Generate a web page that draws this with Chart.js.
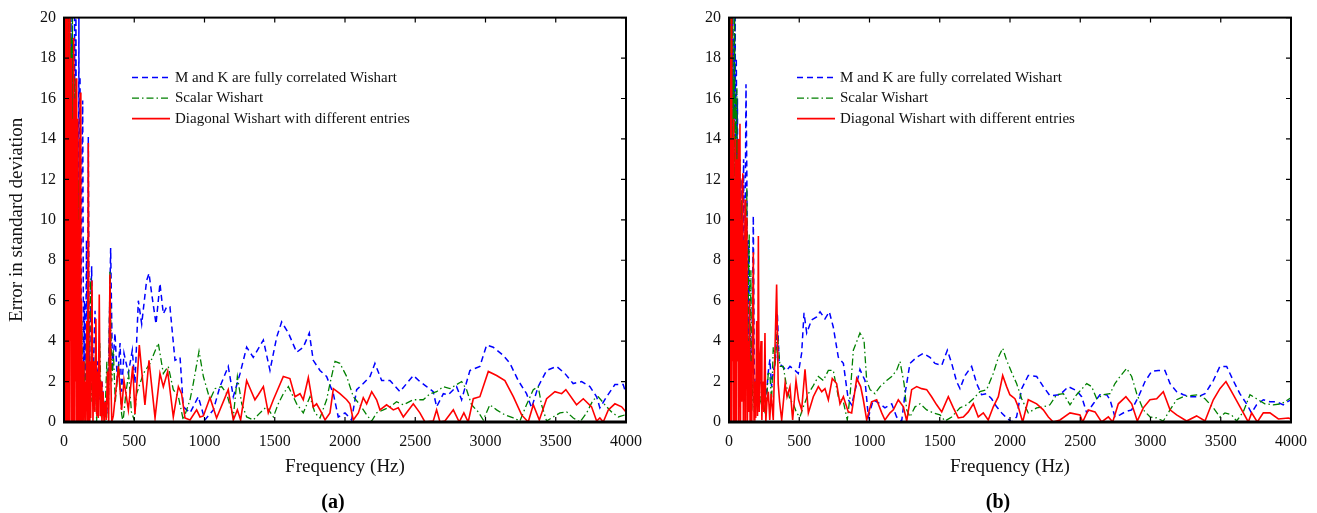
<!DOCTYPE html>
<html>
<head>
<meta charset="utf-8">
<script src="https://cdn.jsdelivr.net/npm/chart.js@4.4.1/dist/chart.umd.min.js"></script>
<style>
  body { margin: 0; background: #fff; }
  #wrap { position: relative; width: 1317px; height: 513px; }
  canvas { position: absolute; top: 0; }
</style>
</head>
<body>
<div id="wrap">
  <canvas id="chartA" width="660" height="513" style="left:0"></canvas>
  <canvas id="chartB" width="657" height="513" style="left:660px"></canvas>
</div>
<script>
// axis ticks
const xTicks = [0, 500, 1000, 1500, 2000, 2500, 3000, 3500, 4000];
const yTicks = [0, 2, 4, 6, 8, 10, 12, 14, 16, 18, 20];
const seriesNames = ['M and K are fully correlated Wishart', 'Scalar Wishart', 'Diagonal Wishart with different entries'];

// panel (a): [frequency Hz, error]
const aBlue = [[0,0],[3,20],[6,5],[10,20],[14,8],[18,20],[22,12],[26,20],[30,10],[34,20],[38,6],[42,18],[46,9],[50,20],[54,4],[58,19],[62,7],[66,15],[70,2],[75,20],[80,8],[85,20],[90,3],[96,12],[102,1],[106,20],[110,5],[114,17.1],[120,3],[126,12],[133,15.9],[140,1],[146,6],[152,0.5],[160,9],[166,1],[173,14.1],[180,2],[188,5],[197,7.7],[206,1],[214,4],[221,5.5],[230,1],[240,3],[256,1.1],[270,2],[290,0.5],[304,0.25],[318,3],[332,8.6],[345,2.5],[363,4.4],[380,2],[399,3.9],[410,1.5],[427,3.4],[458,2.4],[486,3.55],[505,1.9],[529,6.0],[553,4.85],[588,7.0],[605,7.35],[624,6.35],[655,4.85],[683,6.85],[707,5.35],[731,5.7],[754,5.7],[790,3.05],[826,3.2],[849,0.75],[897,0.45],[956,1.25],[1003,0.1],[1063,0.6],[1110,1.75],[1169,2.75],[1205,1.25],[1253,2.4],[1300,3.7],[1347,3.2],[1419,4.05],[1466,2.55],[1514,4.2],[1549,4.95],[1597,4.4],[1656,3.45],[1703,3.7],[1746,4.4],[1774,3.05],[1822,2.55],[1869,2.25],[1917,1.4],[1952,0.25],[2000,0.45],[2047,0.1],[2083,1.6],[2130,1.9],[2178,2.25],[2213,2.9],[2261,2.05],[2320,2.05],[2391,1.5],[2486,2.3],[2533,2.0],[2581,1.75],[2628,1.5],[2652,0.75],[2700,1.4],[2735,1.35],[2794,1.75],[2830,1.1],[2889,2.55],[2960,2.75],[3008,3.8],[3055,3.7],[3126,3.3],[3174,2.9],[3233,2.05],[3292,1.4],[3328,0.7],[3375,1.75],[3435,2.55],[3506,2.75],[3565,2.4],[3624,1.9],[3684,2.0],[3743,1.75],[3791,1.25],[3814,0.7],[3862,1.25],[3921,1.85],[3980,1.85],[4000,1.4]];
const aGreen = [[0,0],[4,12],[8,2],[12,18],[16,4],[20,20],[24,6],[28,20],[32,3],[36,20],[40,9],[44,20],[48,5],[52,19],[56,8],[60,20],[64,2],[68,18],[72,6],[78,17],[82,4],[86,16.5],[90,1],[95,15],[100,3],[105,12],[110,0],[116,8],[122,1],[128,5],[134,0.5],[142,3],[150,0],[160,4],[170,0.5],[182,5],[190,7.1],[198,1],[208,3],[218,0.5],[225,4],[232,0],[245,2],[255,3.9],[265,0.5],[280,1],[290,0],[305,3],[316,0.2],[327,7.5],[340,2],[351,3.55],[365,1],[390,2.9],[410,0.4],[420,0],[440,1.4],[460,2.4],[480,0.5],[500,0.1],[517,1.4],[565,2.4],[612,2.9],[671,3.9],[707,2.4],[742,2.75],[778,1.6],[814,1.25],[849,0.1],[897,1.1],[920,1.9],[961,3.5],[992,2.25],[1039,1.1],[1075,1.65],[1122,1.75],[1158,1.4],[1205,0.25],[1234,2.25],[1265,0.9],[1300,0.25],[1347,0.1],[1395,0.45],[1442,0.75],[1490,0.25],[1525,0.9],[1561,1.4],[1597,1.75],[1656,0.9],[1703,0.45],[1751,1.25],[1786,0.45],[1822,0.2],[1869,1.1],[1893,1.9],[1929,3.0],[1964,2.9],[2012,2.25],[2059,1.25],[2107,0.85],[2154,0.35],[2190,0.05],[2225,0.45],[2273,0.6],[2320,0.75],[2367,1.0],[2415,0.85],[2486,1.1],[2557,1.1],[2605,1.4],[2652,1.5],[2700,1.75],[2747,1.65],[2794,1.85],[2830,2.0],[2865,1.6],[2901,0.85],[2948,0.5],[2984,0.1],[3031,0.85],[3079,0.6],[3138,0.35],[3198,0.2],[3245,0.05],[3292,0.85],[3340,1.6],[3375,1.75],[3399,0.85],[3435,0.05],[3482,0.25],[3530,0.45],[3577,0.5],[3625,0.2],[3672,0],[3720,0.45],[3767,1.1],[3803,1.25],[3850,0.85],[3897,0.5],[3945,0.25],[3992,0.35],[4000,0.4]];
const aRed = [[0,1.2],[2,20],[4,0.5],[6,20],[8,2],[10,19],[12,0],[14,20],[16,3],[18,18],[20,0],[22,20],[24,5],[27,19],[30,0],[32,17],[35,2],[38,20],[41,0],[44,16],[47,4],[50,18],[53,0],[56,17],[59,1],[62,15],[65,0],[68,19],[71,3],[74,16],[77,0],[80,14],[83,2],[86,17],[89,0],[92,12],[95,0],[98,15],[101,1],[104,10],[107,0],[110,14],[113,0],[116,16.3],[120,0],[125,6],[130,0],[136,3],[142,0],[148,2],[155,0],[162,5],[168,0],[173,13.8],[178,0],[184,3],[190,0.2],[199,7],[206,0],[214,3],[220,0.5],[227,5.1],[234,0.3],[240,2.5],[244,0.2],[251,6.3],[258,0.3],[264,2],[270,0],[278,1.5],[285,0],[293,1],[300,0.1],[310,2.5],[318,0],[327,7.3],[334,2],[340,0],[351,0.3],[387,2.75],[410,0.6],[427,2.05],[458,0.6],[489,2.75],[505,0.4],[536,3.8],[576,0.85],[605,3.05],[648,0.2],[683,2.4],[707,1.75],[738,2.5],[778,0.25],[814,1.75],[837,1.4],[861,0.2],[897,0.1],[944,0.6],[968,0.25],[992,0.3],[1039,1.2],[1086,0.2],[1169,1.6],[1205,0.1],[1234,0.6],[1257,0.1],[1300,2.05],[1359,1.1],[1383,1.35],[1419,1.75],[1454,0.45],[1490,1.1],[1561,2.25],[1608,2.15],[1644,1.25],[1680,1.4],[1703,1.1],[1739,2.2],[1774,0.75],[1798,0.9],[1834,0.45],[1858,0.1],[1893,0.45],[1917,1.65],[1964,1.4],[2012,1.1],[2035,0.9],[2059,0.1],[2095,0.45],[2130,1.2],[2154,0.9],[2190,1.5],[2225,1.1],[2249,0.6],[2296,0.85],[2344,0.6],[2379,0.7],[2415,0.25],[2486,0.9],[2533,0.45],[2569,0],[2628,0.05],[2652,0.6],[2676,0],[2711,0.05],[2771,0.6],[2813,0],[2846,0.45],[2877,0],[2913,1.15],[2960,1.25],[3020,2.5],[3079,2.3],[3138,2.05],[3198,1.25],[3257,0.35],[3304,0],[3340,0.85],[3383,0.1],[3435,1.15],[3494,1.5],[3542,1.4],[3572,1.6],[3648,0.85],[3696,1.15],[3755,0.75],[3791,0.05],[3814,0.2],[3838,0],[3874,0.6],[3921,0.9],[3969,0.75],[4000,0.5]];

// panel (b)
const bBlue = [[0,0],[3,20],[6,8],[9,20],[12,14],[15,20],[18,10],[21,20],[24,16],[28,20],[32,12],[36,19],[40,15],[44,20],[48,9],[52,18],[56,13],[60,16],[64,6],[68,14],[72,10],[76,13],[80,4],[86,12],[92,2],[98,9],[104,13],[110,1],[116,11],[121,16.7],[127,12.3],[133,4],[140,9],[146,1],[152,4.4],[160,1],[167,6],[173,10.2],[180,2.5],[190,1.5],[203,1.1],[215,2],[230,1.9],[243,1.1],[255,1.9],[268,1.5],[280,2.5],[291,3.1],[303,1.75],[315,2.5],[330,3],[344,5.4],[357,2.9],[380,2.75],[410,2.55],[434,2.75],[470,2.55],[493,2.4],[517,3.4],[534,5.4],[553,4.4],[588,5.05],[624,5.2],[648,5.45],[683,5.1],[714,5.45],[742,4.7],[778,3.2],[814,2.9],[849,1.1],[873,0.85],[909,1.9],[932,2.6],[968,2.05],[992,0.25],[1027,1.1],[1075,0.9],[1110,0.7],[1158,0.9],[1193,0.25],[1229,0.05],[1253,1.4],[1288,2.9],[1336,3.2],[1383,3.4],[1430,3.2],[1466,2.9],[1514,2.8],[1554,3.55],[1585,2.9],[1620,2.0],[1644,1.65],[1680,2.3],[1727,2.75],[1763,1.9],[1798,1.35],[1834,1.4],[1869,1.15],[1905,0.75],[1941,0.45],[1976,0.2],[2012,0.0],[2047,0.25],[2083,1.65],[2130,2.3],[2190,2.25],[2237,1.75],[2284,1.3],[2356,1.35],[2415,1.75],[2474,1.55],[2510,1.25],[2546,0.45],[2593,0.9],[2640,1.35],[2688,1.35],[2712,1.1],[2747,0.25],[2783,0.35],[2819,0.5],[2866,0.6],[2914,1.25],[2961,2.0],[3008,2.5],[3056,2.55],[3103,2.55],[3139,1.9],[3186,1.5],[3234,1.35],[3281,1.25],[3340,1.25],[3388,1.4],[3447,2.05],[3494,2.75],[3542,2.75],[3589,2.05],[3636,1.4],[3684,0.9],[3719,0.45],[3755,0.85],[3803,1.1],[3850,1.0],[3898,1.0],[3945,0.85],[3974,1.0],[4000,1.1]];
const bGreen = [[0,0],[3,14],[6,2],[9,20],[12,6],[15,20],[18,3],[21,18],[24,10],[27,20],[30,4],[32,17],[36,8],[40,20],[44,5],[48,16],[52,9],[56,16.5],[60,3],[64,14],[68,7],[72,13],[78,12.95],[84,4],[90,11],[96,2],[102,7.7],[108,3],[114,9],[120,4],[127,11.6],[133,2],[138,7],[144,9.3],[150,1],[156,7.5],[162,0.5],[170,2],[180,0.5],[190,2],[200,1.5],[210,2.5],[222,1],[240,1.5],[255,0.4],[268,1.1],[280,2.5],[292,2.25],[303,1],[315,3.7],[330,3],[344,4.5],[363,2.75],[386,2.75],[410,1.75],[434,1.1],[458,0.9],[481,0.45],[505,0.25],[529,0.75],[565,1.4],[600,1.8],[636,2.25],[671,2.05],[707,2.55],[742,2.55],[778,1.25],[814,1.0],[842,0.1],[861,1.25],[885,3.55],[913,4.05],[932,4.4],[961,4.05],[980,2.05],[1004,1.6],[1039,1.4],[1075,1.75],[1122,2.05],[1158,2.25],[1193,2.55],[1217,3.0],[1246,1.9],[1265,0.6],[1288,0.25],[1324,0.75],[1360,0.9],[1407,0.6],[1454,0.45],[1502,0.35],[1537,0.05],[1585,0.25],[1644,0.7],[1692,0.85],[1739,1.15],[1786,1.5],[1834,1.6],[1881,2.4],[1917,3.2],[1948,3.65],[1976,3.05],[2012,2.45],[2047,1.9],[2083,1.15],[2130,0.45],[2190,0.7],[2237,0.75],[2284,0.85],[2332,1.35],[2380,1.4],[2427,0.85],[2474,1.35],[2546,1.9],[2581,1.75],[2617,1.15],[2665,1.35],[2712,1.4],[2747,1.9],[2783,2.25],[2830,2.65],[2866,2.25],[2902,1.4],[2949,0.6],[2997,0.25],[3044,0.2],[3091,0.05],[3139,0.6],[3186,1.1],[3234,1.25],[3281,1.3],[3340,1.35],[3388,1.15],[3447,0.7],[3494,0.25],[3530,0.45],[3577,0.35],[3613,0.05],[3660,0.5],[3708,1.35],[3755,1.15],[3814,0.9],[3874,0.85],[3933,0.9],[3988,1.15],[4000,1.2]];
const bRed = [[0,1],[2,20],[4,0],[6,20],[8,3],[10,18],[12,0],[14,15],[16,2],[18,20],[20,0],[23,14],[26,3],[29,13],[32,0],[35,15],[38,2],[41,12],[44,0],[47,14],[50,1],[53,13],[56,0],[59,12],[62,3],[66,14],[70,0],[74,11],[78,14.75],[82,0],[86,10],[90,1],[94,12],[98,12.3],[102,0],[106,9],[110,2],[114,11],[118,0],[122,8],[127,10.1],[131,0],[136,4],[140,0.5],[146,6],[150,0],[156,3],[162,0],[168,5],[173,8.4],[178,0.1],[184,2],[190,0.2],[197,5],[203,0.3],[209,9.2],[215,0.5],[222,3],[228,4],[234,0.1],[240,2],[248,0.5],[256,4.4],[262,0],[270,1],[280,1.5],[290,0.1],[300,1.4],[315,0.1],[325,3],[339,6.8],[350,1.9],[360,1],[375,0.1],[399,1.9],[413,1.25],[434,1.75],[453,0.1],[477,2.05],[495,1.1],[517,0.6],[541,2.6],[565,0.45],[600,1.25],[636,1.75],[660,1.5],[683,1.65],[707,1.1],[735,2.15],[766,1.9],[790,0.9],[814,1.25],[849,0.5],[873,0.45],[909,2.15],[937,1.75],[956,1.1],[980,0.1],[1015,1.0],[1051,1.1],[1087,0.45],[1110,0.1],[1146,0.45],[1170,0.6],[1205,1.1],[1241,0.75],[1265,0.05],[1300,1.6],[1336,1.75],[1371,1.65],[1407,1.6],[1442,1.25],[1478,0.85],[1514,0.5],[1561,1.25],[1597,0.7],[1632,0.2],[1668,0.25],[1703,0.5],[1739,0.9],[1774,0.25],[1810,0.45],[1845,0.1],[1881,0.75],[1917,1.25],[1948,2.3],[1976,1.75],[1999,1.35],[2035,1.15],[2059,0.75],[2090,0.0],[2130,1.1],[2190,0.9],[2237,0.6],[2273,0.25],[2308,0.0],[2356,0.1],[2427,0.45],[2498,0.35],[2517,0],[2557,0.6],[2605,0.5],[2652,0],[2700,0.25],[2731,0],[2771,0.9],[2825,1.25],[2866,0.9],[2906,0.05],[2949,0.7],[2996,1.1],[3044,1.15],[3091,1.5],[3139,0.6],[3186,0.35],[3257,0.05],[3328,0.3],[3388,0.05],[3447,1.1],[3494,1.65],[3537,2.0],[3585,1.4],[3649,0.6],[3696,0],[3720,0.45],[3760,0],[3803,0.45],[3850,0.45],[3910,0.15],[3981,0.2],[4000,0.15]];

const serif = "'Liberation Serif', 'Times New Roman', serif";
Chart.defaults.font.family = serif;
Chart.defaults.color = '#111';

const colors = ['#0000ff', '#008000', '#ff0000'];
const dashes = [[6, 4], [7, 3, 1.5, 3], []];
const widths = [1.5, 1.3, 1.6];

// frame, inward ticks, legend and panel caption
const framePlugin = {
  id: 'frame',
  afterDraw(chart) {
    const {ctx, chartArea: a, scales: {x, y}} = chart;
    const opts = chart.options.plugins.frame;
    ctx.save();
    ctx.strokeStyle = '#000';
    ctx.lineWidth = 1.2;
    ctx.beginPath();
    xTicks.forEach(v => {
      const px = x.getPixelForValue(v);
      ctx.moveTo(px, a.top); ctx.lineTo(px, a.top + 5);
      ctx.moveTo(px, a.bottom); ctx.lineTo(px, a.bottom - 5);
    });
    yTicks.forEach(v => {
      const py = y.getPixelForValue(v);
      ctx.moveTo(a.left, py); ctx.lineTo(a.left + 5, py);
      ctx.moveTo(a.right, py); ctx.lineTo(a.right - 5, py);
    });
    ctx.stroke();
    ctx.lineWidth = 2;
    ctx.strokeRect(a.left, a.top, a.right - a.left, a.bottom - a.top);
    ctx.lineWidth = 3;
    ctx.beginPath();
    ctx.moveTo(a.left - 1, a.bottom); ctx.lineTo(a.right + 1, a.bottom);
    ctx.stroke();

    // legend
    ctx.font = '15px ' + serif;
    ctx.textBaseline = 'middle';
    seriesNames.forEach((name, i) => {
      const ly = a.top + 60 + i * 20.5;
      ctx.strokeStyle = colors[i];
      ctx.lineWidth = widths[i];
      ctx.setLineDash(dashes[i]);
      ctx.beginPath();
      ctx.moveTo(a.left + 68, ly); ctx.lineTo(a.left + 106, ly);
      ctx.stroke();
      ctx.setLineDash([]);
      ctx.fillStyle = '#111';
      ctx.fillText(name, a.left + 111, ly);
    });

    // caption
    ctx.font = 'bold 20px ' + serif;
    ctx.textAlign = 'center';
    ctx.fillStyle = '#000';
    ctx.fillText(opts.caption, (a.left + a.right) / 2 - 12, 503);
    ctx.restore();
  }
};

function makeChart(id, series, caption, yTitle, axisWidth, padRight) {
  return new Chart(document.getElementById(id), {
    type: 'line',
    data: {
      datasets: series.map((s, i) => ({
        label: seriesNames[i],
        data: s.map(p => ({x: p[0], y: p[1]})),
        borderColor: colors[i],
        borderDash: dashes[i],
        borderWidth: widths[i],
        pointRadius: 0,
        tension: 0,
        fill: false,
        order: 3 - i
      }))
    },
    options: {
      responsive: false,
      animation: false,
      devicePixelRatio: 1,
      layout: {padding: {top: 17, right: padRight, bottom: 31, left: 0}},
      plugins: {
        legend: {display: false},
        tooltip: {enabled: false},
        frame: {caption: caption}
      },
      scales: {
        x: {
          type: 'linear', min: 0, max: 4000,
          afterBuildTicks: s => { s.ticks = xTicks.map(v => ({value: v})); },
          afterFit: s => { s.height = 60; },
          grid: {display: false, drawTicks: false},
          border: {display: false},
          ticks: {padding: 10, font: {size: 16}, maxRotation: 0, callback: v => String(v)},
          title: {display: true, text: 'Frequency (Hz)', font: {size: 19}, color: '#111', padding: {top: 4, bottom: 4}}
        },
        y: {
          min: 0, max: 20,
          afterBuildTicks: s => { s.ticks = yTicks.map(v => ({value: v})); },
          afterFit: s => { s.width = axisWidth; },
          grid: {display: false, drawTicks: false},
          border: {display: false},
          ticks: {padding: 8, font: {size: 16}, callback: v => String(v)},
          title: {display: !!yTitle, text: yTitle, font: {size: 19}, color: '#111', padding: {top: 6, bottom: 0}}
        }
      }
    },
    plugins: [framePlugin]
  });
}

makeChart('chartA', [aBlue, aGreen, aRed], '(a)', 'Error in standard deviation', 64, 34);
makeChart('chartB', [bBlue, bGreen, bRed], '(b)', '', 69, 26);
</script>
</body>
</html>
